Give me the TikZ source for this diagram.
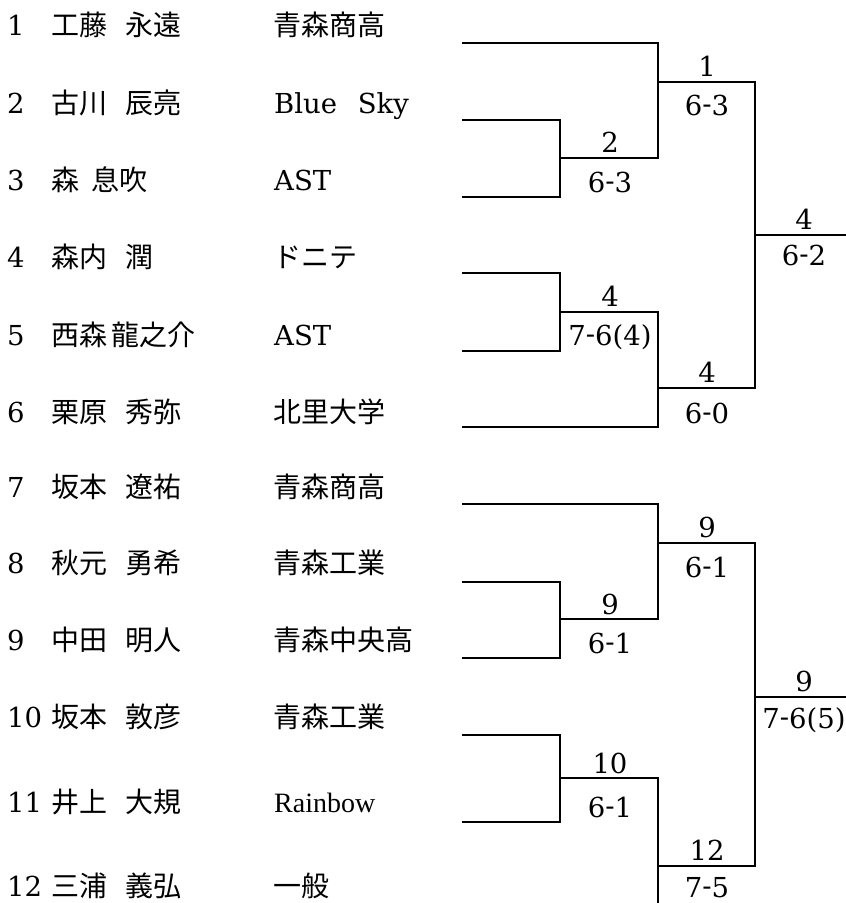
\documentclass[tikz,border=0pt]{standalone}
\usepackage{fontspec}
\setmainfont{DejaVu Serif}
\newfontfamily\jpfont{Noto Sans CJK JP}
\newfontfamily\timesfont{Liberation Serif}
\newcommand{\sd}{\raisebox{0.06em}{-}}
\newcommand{\jpn}{\jpfont\fontsize{28pt}{32pt}\selectfont}
\begin{document}
\begin{tikzpicture}[x=1pt,y=-1pt,
  br/.style={line width=2.8pt, line join=miter},
  lat/.style={inner sep=0pt, font=\fontsize{27.5pt}{32pt}\selectfont},
  num/.style={lat, anchor=base west},
  pname/.style={inner sep=0pt, anchor=base west, font=\jpn},
  team/.style={inner sep=0pt, anchor=base west, font=\jpn},
  teamlat/.style={lat, anchor=base west},
  win/.style={lat, anchor=base},
  score/.style={lat, anchor=base}]
\useasboundingbox (0,0) rectangle (846,903);

% player line starts
\coordinate (p1) at (462,43);
\coordinate (p2) at (462,120);
\coordinate (p3) at (462,197);
\coordinate (p4) at (462,273);
\coordinate (p5) at (462,351);
\coordinate (p6) at (462,427);
\coordinate (p7) at (462,504);
\coordinate (p8) at (462,582);
\coordinate (p9) at (462,658);
\coordinate (p10) at (462,735);
\coordinate (p11) at (462,822);
\coordinate (cut) at (658,903);
% match points
\coordinate (mA) at (560,158);
\coordinate (mB) at (658,82);
\coordinate (mC) at (560,312);
\coordinate (mD) at (658,388);
\coordinate (mE) at (755,235);
\coordinate (mF) at (560,619);
\coordinate (mG) at (658,543);
\coordinate (mH) at (560,778);
\coordinate (mI) at (658,866);
\coordinate (mJ) at (755,697);
\coordinate (eE) at (846,235);
\coordinate (eJ) at (846,697);

% brackets
\draw[br] (p2) -| (mA) |- (p3);
\draw[br] (p1) -| (mB) |- (mA);
\draw[br] (p4) -| (mC) |- (p5);
\draw[br] (mC) -| (mD) |- (p6);
\draw[br] (mB) -| (mE) |- (mD);
\draw[br] (mE) -- (eE);
\draw[br] (p8) -| (mF) |- (p9);
\draw[br] (p7) -| (mG) |- (mF);
\draw[br] (p10) -| (mH) |- (p11);
\draw[br] (mH) -| (mI) -- (cut);
\draw[br] (mG) -| (mJ) |- (mI);
\draw[br] (mJ) -- (eJ);

% match labels
\node[win] (wA) at (610,152.5) {2};     \node[score] (sA) at (610,192) {6\sd3};
\node[win] (wB) at (707,76.5) {1};      \node[score] (sB) at (707,115) {6\sd3};
\node[win] (wC) at (610,306.5) {4};     \node[score] (sC) at (610,345) {7\sd6(4)};
\node[win] (wD) at (707,382.5) {4};     \node[score] (sD) at (707,423) {6\sd0};
\node[win] (wE) at (804,229.5) {4};     \node[score] (sE) at (804,265) {6\sd2};
\node[win] (wG) at (707,537.5) {9};     \node[score] (sG) at (707,577) {6\sd1};
\node[win] (wF) at (610,614) {9};       \node[score] (sF) at (610,653) {6\sd1};
\node[win] (wJ) at (804,691.5) {9};     \node[score] (sJ) at (804,728) {7\sd6(5)};
\node[win] (wH) at (610,773) {10};      \node[score] (sH) at (610,817) {6\sd1};
\node[win] (wI) at (707,860.5) {12};    \node[score] (sI) at (707,897) {7\sd5};

% players
\node[num] (n1) at (7,35) {1};
\node[pname] (a1) at (51,35) {\makebox[74.5pt][l]{工藤}永遠};
\node[team] (t1) at (273,35) {青森商高};

\node[num] (n2) at (7,113) {2};
\node[pname] (a2) at (51,113) {\makebox[74.5pt][l]{古川}辰亮};
\node[teamlat] (t2) at (274,113) {Blue\hspace{0.75em}Sky};

\node[num] (n3) at (7,190) {3};
\node[pname] (a3) at (51,190) {\makebox[40.5pt][l]{森}息吹};
\node[teamlat] (t3) at (274,190) {AST};

\node[num] (n4) at (7,267) {4};
\node[pname] (a4) at (51,267) {\makebox[74.5pt][l]{森内}潤};
\node[team] (t4) at (273,267) {ドニテ};

\node[num] (n5) at (7,345) {5};
\node[pname] (a5) at (51,345) {\makebox[60pt][l]{西森}龍之介};
\node[teamlat] (t5) at (274,345) {AST};

\node[num] (n6) at (7,422) {6};
\node[pname] (a6) at (51,422) {\makebox[74.5pt][l]{栗原}秀弥};
\node[team] (t6) at (273,422) {北里大学};

\node[num] (n7) at (7,497) {7};
\node[pname] (a7) at (51,497) {\makebox[74.5pt][l]{坂本}遼祐};
\node[team] (t7) at (273,497) {青森商高};

\node[num] (n8) at (7,573) {8};
\node[pname] (a8) at (51,573) {\makebox[74.5pt][l]{秋元}勇希};
\node[team] (t8) at (273,573) {青森工業};

\node[num] (n9) at (7,650) {9};
\node[pname] (a9) at (51,650) {\makebox[74.5pt][l]{中田}明人};
\node[team] (t9) at (273,650) {青森中央高};

\node[num] (n10) at (7,727) {10};
\node[pname] (a10) at (51,727) {\makebox[74.5pt][l]{坂本}敦彦};
\node[team] (t10) at (273,727) {青森工業};

\node[num] (n11) at (7,812) {11};
\node[pname] (a11) at (51,812) {\makebox[74.5pt][l]{井上}大規};
\node[teamlat, font=\timesfont\fontsize{28pt}{32pt}\selectfont] (t11) at (274,812) {Rainbow};

\node[num] (n12) at (7,896) {12};
\node[pname] (a12) at (51,896) {\makebox[74.5pt][l]{三浦}義弘};
\node[team] (t12) at (273,896) {一般};
\end{tikzpicture}
\end{document}
